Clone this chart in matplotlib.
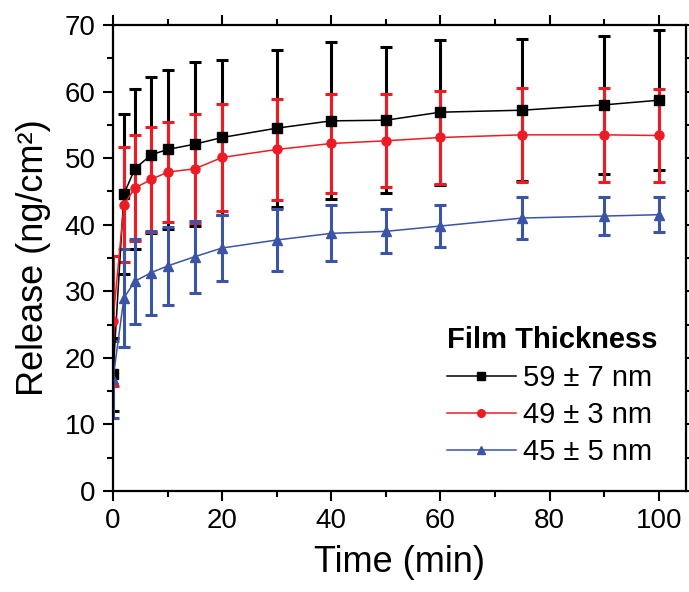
import matplotlib
matplotlib.use('Agg')
import matplotlib.pyplot as plt
from matplotlib.ticker import MultipleLocator
from matplotlib.lines import Line2D

plt.rcParams['font.family'] = ['Liberation Sans', 'DejaVu Sans']

# time points (min)
time = [0, 2, 4, 7, 10, 15, 20, 30, 40, 50, 60, 75, 90, 100]

# 59 +- 7 nm
black_mean = [17.5, 44.6, 48.4, 50.5, 51.3, 52.1, 53.1, 54.5, 55.6, 55.7, 56.9, 57.2, 58.0, 58.7]
black_err = [5.5, 12.0, 12.0, 11.7, 12.0, 12.3, 11.7, 11.8, 11.8, 11.0, 10.9, 10.7, 10.4, 10.5]
# 49 +- 3 nm
red_mean = [25.5, 43.0, 45.5, 46.8, 47.9, 48.4, 50.1, 51.3, 52.2, 52.6, 53.1, 53.5, 53.5, 53.4]
red_err = [9.8, 8.6, 8.0, 7.9, 7.5, 8.2, 8.0, 7.6, 7.4, 7.0, 7.0, 7.1, 7.1, 7.0]
# 45 +- 5 nm
blue_mean = [16.8, 29.0, 31.5, 32.8, 33.8, 35.2, 36.5, 37.7, 38.7, 39.0, 39.8, 41.0, 41.3, 41.5]
blue_err = [5.8, 7.3, 6.4, 6.3, 5.9, 5.4, 5.0, 4.6, 4.2, 3.3, 3.2, 3.1, 2.9, 2.6]

labels = ['59 ± 7 nm', '49 ± 3 nm', '45 ± 5 nm']
colors = ['black', '#ED1C24', '#3B54A5']
markers = ['s', 'o', '^']

fig = plt.figure(figsize=(6.89, 5.92), dpi=100)
ax = fig.add_axes([0.164, 0.1706, 0.8316, 0.7872])

series = [(black_mean, black_err), (red_mean, red_err), (blue_mean, blue_err)]
handles = []
for (m, e), c, mk, lab in zip(series, colors, markers, labels):
    ax.errorbar(time, m, yerr=e, fmt='-' + mk, color=c, lw=1.1, ms=6.5,
                elinewidth=2.2, capsize=4.5, capthick=2.2)
    # legend entry without the error bars
    handles.append(Line2D([], [], color=c, marker=mk, lw=1.1, ms=5.5, label=lab))

ax.set_xlim(0, 105)
ax.set_ylim(0, 70)
ax.xaxis.set_major_locator(MultipleLocator(20))
ax.xaxis.set_minor_locator(MultipleLocator(10))
ax.yaxis.set_major_locator(MultipleLocator(10))
ax.yaxis.set_minor_locator(MultipleLocator(5))
ax.tick_params(which='both', direction='out', top=True, right=True, width=1.5)
ax.tick_params(which='major', length=7.5, labelsize=20, pad=5)
ax.tick_params(which='minor', length=4.5)
for s in ax.spines.values():
    s.set_linewidth(1.6)

ax.set_xlabel('Time (min)', fontsize=26, labelpad=8)
ax.set_ylabel('Release (ng/cm²)', fontsize=26, labelpad=10)

# legend title drawn separately so the gap to the entries matches
ax.text(0.583, 0.307, 'Film Thickness', transform=ax.transAxes, fontsize=21,
        fontweight='bold', ha='left', va='baseline')
leg = ax.legend(handles=handles, loc='center left', bbox_to_anchor=(0.583, 0.163),
                frameon=False, fontsize=21, borderpad=0, borderaxespad=0,
                handlelength=2.35, labelspacing=0.3, handletextpad=0.25)

plt.savefig('out.png', dpi=100)
